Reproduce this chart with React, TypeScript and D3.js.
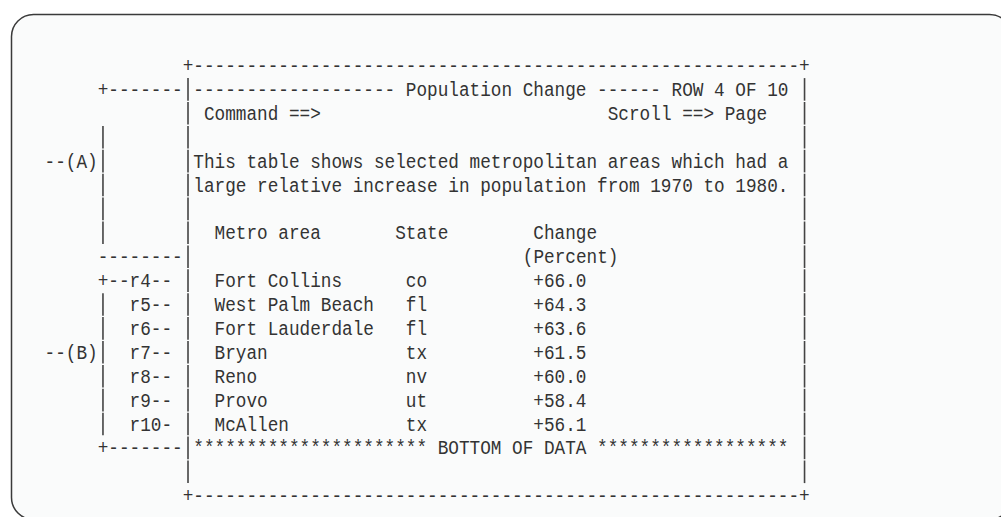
import React from "react";
import * as d3 from "d3";

// table content
const metroAreas = ["Fort Collins", "West Palm Beach", "Fort Lauderdale", "Bryan", "Reno", "Provo", "McAllen"];
const states = ["co", "fl", "fl", "tx", "nv", "ut", "tx"];
const changes = [66.0, 64.3, 63.6, 61.5, 60.0, 58.4, 56.1];
const rowIds = ["r4", "r5", "r6", "r7", "r8", "r9", "r10"];
const headers = ["Metro area", "State", "Change", "(Percent)"];
const title = "Population Change";
const rowInfo = "ROW 4 OF 10";
const commandText = "Command ==>";
const scrollText = "Scroll ==> Page";
const description = [
  "This table shows selected metropolitan areas which had a",
  "large relative increase in population from 1970 to 1980.",
];
const bottomText = "BOTTOM OF DATA";
const calloutLabels = ["(A)", "(B)"];

const W = 1001;
const H = 517;
const COLS = 72;
const CW = 10.63; // one character cell
const FS = 19.3; // font size, squeezed back to the cell width
const SX = CW / (0.6 * FS);

type Part = [number, string];

// build one 72 column line of the screen from pieces placed at columns
function makeLine(parts: Part[]): string {
  const chars = new Array(COLS).fill(" ");
  parts.forEach(([col, text]) => {
    for (let i = 0; i < text.length; i++) chars[col + i] = text[i];
  });
  return chars.join("");
}

const inner = 57;
const border = "+" + "-".repeat(inner) + "+";

const lines: string[] = [
  makeLine([[13, border]]),
  makeLine([
    [5, "+-------|"],
    [14, "-".repeat(19) + " " + title + " " + "-".repeat(6) + " " + rowInfo],
    [71, "|"],
  ]),
  makeLine([[13, "|"], [15, commandText], [53, scrollText], [71, "|"]]),
  makeLine([[5, "|"], [13, "|"], [71, "|"]]),
  makeLine([[0, "--" + calloutLabels[0] + "|"], [13, "|"], [14, description[0]], [71, "|"]]),
  makeLine([[5, "|"], [13, "|"], [14, description[1]], [71, "|"]]),
  makeLine([[5, "|"], [13, "|"], [71, "|"]]),
  makeLine([[5, "|"], [13, "|"], [16, headers[0]], [33, headers[1]], [46, headers[2]], [71, "|"]]),
  makeLine([[5, "--------"], [13, "|"], [45, headers[3]], [71, "|"]]),
  ...metroAreas.map((m, i) => {
    const id = rowIds[i] + "-".repeat(4 - rowIds[i].length);
    const left: Part[] =
      i === 0
        ? [[5, "+--" + id]]
        : i === 3
        ? [[0, "--" + calloutLabels[1] + "|"], [8, id]]
        : [[5, "|"], [8, id]];
    return makeLine([
      ...left,
      [13, "|"],
      [16, m],
      [34, states[i]],
      [46, "+" + changes[i].toFixed(1)],
      [71, "|"],
    ]);
  }),
  makeLine([
    [5, "+-------|"],
    [14, "*".repeat(22) + " " + bottomText + " " + "*".repeat(18)],
    [71, "|"],
  ]),
  makeLine([[13, "|"], [71, "|"]]),
  makeLine([[13, border]]),
];

const x = d3.scaleLinear().domain([0, 1]).range([44.5, 44.5 + CW]);
const y = d3.scaleLinear().domain([0, 1]).range([72, 72 + 23.9]);

interface Run { row: number; col: number; text: string }

const runs: Run[] = [];
const bars: { row: number; col: number }[] = [];
lines.forEach((ln, row) => {
  let start = -1;
  for (let c = 0; c <= ln.length; c++) {
    const ch = c < ln.length ? ln[c] : "|";
    if (ch === "|") {
      if (start >= 0) {
        const t = ln.slice(start, c).replace(/\s+$/, "");
        const lead = t.length - t.replace(/^\s+/, "").length;
        if (t.trim().length) runs.push({ row, col: start + lead, text: t.slice(lead) });
      }
      start = -1;
      if (c < ln.length) bars.push({ row, col: c });
    } else if (start < 0) {
      start = c;
    }
  }
});

const ink = "#333";

export default function App() {
  return (
    <svg
      width={W}
      height={H}
      style={{ position: "absolute", left: 0, top: 0, display: "block", background: "#fff" }}
    >
      <rect x={11.5} y={14.5} width={1000} height={505} rx={22} ry={22} fill="#fafbfb" stroke="#3a3a3a" strokeWidth={1.5} />
      {bars.map((b, i) => (
        <line
          key={"b" + i}
          x1={x(b.col + 0.5)}
          x2={x(b.col + 0.5)}
          y1={y(b.row) - 6 - 11.8}
          y2={y(b.row) - 6 + 10.8}
          stroke="#444"
          strokeWidth={1.6}
        />
      ))}
      {runs.map((r, i) => (
        <text
          key={"t" + i}
          transform={`translate(${x(r.col)},${y(r.row)}) scale(${SX},1)`}
          fill={ink}
          fontFamily="'Liberation Mono', monospace"
          fontSize={FS}
          style={{ whiteSpace: "pre" }}
          xmlSpace="preserve"
        >
          {r.text}
        </text>
      ))}
    </svg>
  );
}
